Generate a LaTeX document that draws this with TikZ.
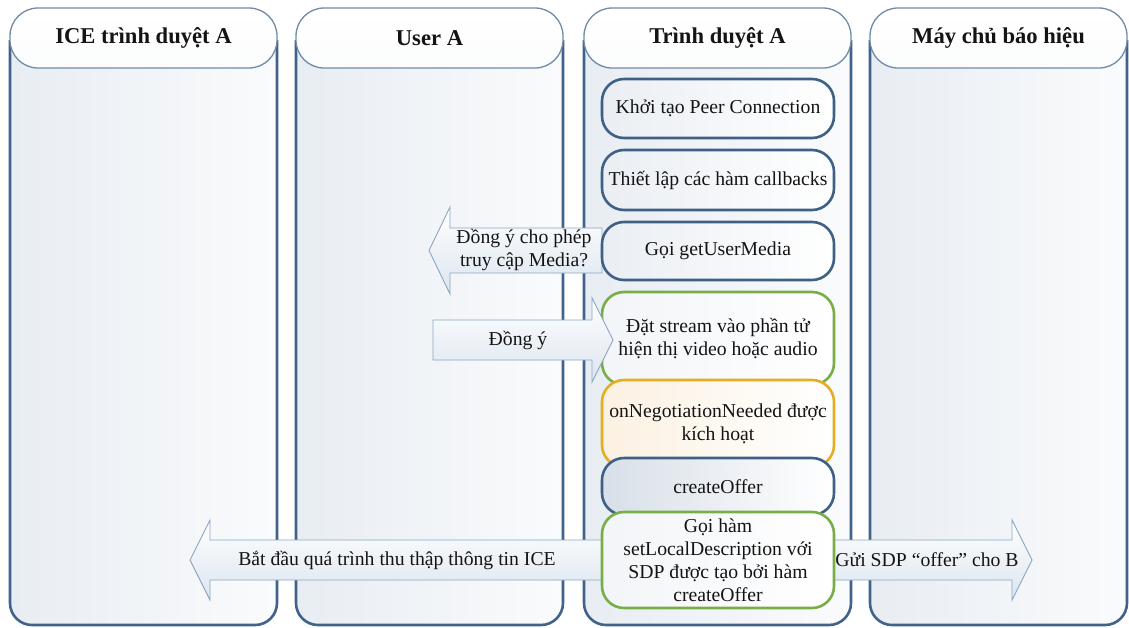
\documentclass[tikz,border=0pt]{standalone}
\usepackage{fontspec}
\setmainfont{Liberation Serif}
\usetikzlibrary{positioning}

\definecolor{laneline}{HTML}{41628A}
\definecolor{headline}{HTML}{6F8BA8}
\definecolor{lanefillL}{HTML}{E8EDF3}
\definecolor{lanefillR}{HTML}{FAFBFC}
\definecolor{boxblue}{HTML}{3E6085}
\definecolor{boxgreen}{HTML}{79AD48}
\definecolor{boxorange}{HTML}{E5AE22}
\definecolor{boxshade}{HTML}{EAEEF3}
\definecolor{offershade}{HTML}{D8DFE8}
\definecolor{orangeshade}{HTML}{FCF1E2}
\definecolor{arrowline}{HTML}{8CA6C2}
\definecolor{arrowfill}{HTML}{DCE5EF}
\definecolor{txt}{HTML}{141414}

\tikzset{
  lanebody/.style={left color=lanefillL, right color=lanefillR},
  laneedge/.style={draw=laneline, line width=2.6pt, rounded corners=22pt},
  lanehead/.style={draw=headline, line width=1.3pt, rounded corners=28pt,
    top color=white, bottom color=white!85!lanefillL,
    minimum height=60pt, inner sep=0pt, text=txt,
    font=\fontsize{22.6}{27}\selectfont\bfseries},
  stepbox/.style={line width=2.6pt, rounded corners=22pt,
    minimum width=232pt, inner sep=2pt, align=center, text=txt,
    left color=#1, right color=white,
    font=\fontsize{19.7}{23}\selectfont},
  bluebox/.style={stepbox=boxshade, draw=boxblue},
  greenbox/.style={stepbox=boxshade!60!white, draw=boxgreen},
  orangebox/.style={stepbox=orangeshade, draw=boxorange},
  blockarrow/.style={draw=arrowline, line width=0.9pt, line join=miter,
    top color=white, bottom color=arrowfill},
  arrowtext/.style={text=txt, align=center, inner sep=0pt,
    font=\fontsize{19.7}{23}\selectfont},
}

\begin{document}
\begin{tikzpicture}[x=1pt, y=-1pt]
\useasboundingbox (0,0) rectangle (1129,627);

% ---- swimlanes: body, U-shaped border, header ----
\foreach \xa/\xb/\name in {10/277/l1, 296/563/l2, 584/851/l3, 870/1127/l4} {
  \path[lanebody, rounded corners=22pt] (\xa,40) -- (\xa,625) -- (\xb,625) -- (\xb,40) -- cycle;
  \draw[laneedge] (\xa,40) -- (\xa,625) -- (\xb,625) -- (\xb,40);
}
\node[lanehead, minimum width=267pt] (h1) at (143.5,38) {ICE trình duyệt A};
\node[lanehead, minimum width=267pt] (h2) at (429.5,38) {User A};
\node[lanehead, minimum width=267pt] (h3) at (717.5,38) {Trình duyệt A};
\node[lanehead, minimum width=257pt] (h4) at (998.5,38) {Máy chủ báo hiệu};

% ---- block arrows that pass under the step boxes ----
\path[blockarrow] (602,228) -- (450,228) -- (450,207) -- (429,250.5)
  -- (450,294) -- (450,273) -- (602,273) -- cycle;
\node[arrowtext] (t1) at (524,250) {Đồng ý cho phép\\truy cập Media?};

\path[blockarrow] (602,540) -- (210,540) -- (210,520) -- (190,560)
  -- (210,600) -- (210,580) -- (602,580) -- cycle;
\node[arrowtext] (t3) at (397,560) {Bắt đầu quá trình thu thập thông tin ICE};

\path[blockarrow] (833,540) -- (1012,540) -- (1012,520) -- (1032,560)
  -- (1012,600) -- (1012,580) -- (833,580) -- cycle;
\node[arrowtext] (t4) at (927,560) {Gửi SDP “offer” cho B};

% ---- steps in the browser lane ----
\node[bluebox, minimum height=59pt] (b1) at (718,108.5) {Khởi tạo Peer Connection};
\node[bluebox, minimum height=60pt] (b2) at (718,180) {Thiết lập các hàm callbacks};
\node[bluebox, minimum height=58pt] (b3) at (718,251) {Gọi getUserMedia};
\node[greenbox, minimum height=93pt] (b4) at (718,338.5) {Đặt stream vào phần tử\\hiện thị video hoặc audio};
\node[orangebox, minimum height=87pt] (b5) at (718,423.5) {onNegotiationNeeded được\\kích hoạt};
\node[bluebox, minimum height=57pt, left color=offershade] (b6) at (718,486.5) {createOffer};
\node[greenbox, minimum height=96pt] (b7) at (718,560) {Gọi hàm\\setLocalDescription với\\SDP được tạo bởi hàm\\createOffer};

% ---- reply arrow pointing into the green step ----
\path[blockarrow] (433,320) -- (592,320) -- (592,298) -- (613,340)
  -- (592,382) -- (592,360) -- (433,360) -- cycle;
\node[arrowtext] (t2) at (518,340) {Đồng ý};
\end{tikzpicture}
\end{document}
